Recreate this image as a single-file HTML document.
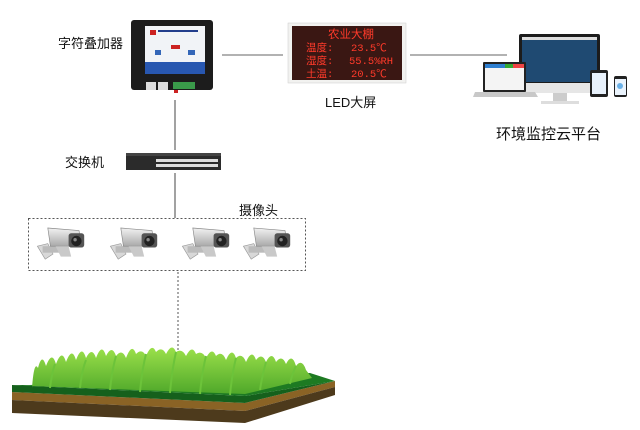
<!DOCTYPE html>
<html><head><meta charset="utf-8"><style>
html,body{margin:0;padding:0;background:#fff}
svg{display:block}
text{font-family:"Liberation Sans","Noto Sans CJK SC",sans-serif}
.led text{font-family:"Liberation Mono","Noto Sans CJK SC",monospace}
</style></head><body>
<svg width="640" height="430" viewBox="0 0 640 430" xmlns="http://www.w3.org/2000/svg">
<defs>
<linearGradient id="gr" x1="0" y1="0" x2="0" y2="1"><stop offset="0" stop-color="#9be04a"/><stop offset="1" stop-color="#4fa82a"/></linearGradient>
<linearGradient id="cam" x1="0" y1="0" x2="0" y2="1"><stop offset="0" stop-color="#f2f2f2"/><stop offset="1" stop-color="#a9a9a9"/></linearGradient>
<g id="camera">
<path d="M-2 14 L6 12 L10 20 L4 24 Z" fill="#d8d8d8" stroke="#999" stroke-width="0.5"/>
<rect x="2" y="14" width="14" height="5" fill="#bbb"/>
<path d="M6 0 L30 2 L32 14 L8 14 Z" fill="url(#cam)" stroke="#888" stroke-width="0.5"/>
<rect x="22" y="4" width="12" height="11" rx="2" fill="#555"/>
<circle cx="28" cy="10" r="4" fill="#222"/>
<circle cx="27" cy="9" r="1.3" fill="#888"/>
<path d="M12 14 L16 22 L24 22 L22 14 Z" fill="#c9c9c9"/>
</g>
</defs>

<!-- connectors -->
<line x1="222" y1="55" x2="283" y2="55" stroke="#666" stroke-width="1"/>
<line x1="410" y1="55" x2="507" y2="55" stroke="#666" stroke-width="1"/>
<line x1="175" y1="100" x2="175" y2="150" stroke="#444" stroke-width="1"/>
<line x1="175" y1="173" x2="175" y2="218" stroke="#444" stroke-width="1"/>
<line x1="178" y1="272" x2="178" y2="352" stroke="#555" stroke-width="1" stroke-dasharray="2,2"/>
<rect x="28.5" y="218.5" width="277" height="52" fill="none" stroke="#555" stroke-width="1" stroke-dasharray="2,2"/>

<!-- superimposer -->
<rect x="131" y="20" width="82" height="70" rx="3" fill="#1c1c1c"/>
<rect x="145" y="26" width="60" height="48" fill="#f1f3f7"/>
<rect x="145" y="62" width="60" height="12" fill="#2857b0"/>
<rect x="150" y="30" width="6" height="5" fill="#c22"/>
<rect x="158" y="30" width="40" height="2" fill="#223d8c"/>
<rect x="171" y="45" width="9" height="4" fill="#c22"/>
<rect x="155" y="50" width="6" height="5" fill="#3466b8"/>
<rect x="188" y="50" width="7" height="5" fill="#3466b8"/>
<rect x="146" y="82" width="10" height="8" fill="#ddd"/>
<rect x="158" y="82" width="10" height="8" fill="#ddd"/>
<rect x="173" y="82" width="22" height="7" fill="#3a9a4a"/>
<rect x="174" y="90" width="4" height="3" fill="#c22"/>
<text x="58" y="48" font-size="13" fill="#111">字符叠加器</text>

<!-- LED -->
<rect x="288" y="23" width="118" height="60" fill="#f2f2f0" stroke="#ccc" stroke-width="0.5"/>
<rect x="292" y="26" width="110" height="54" fill="#3a1713"/>
<g class="led" font-size="10.5" fill="#ff3a2a">
<text x="328" y="38" font-size="11.5">农业大棚</text>
<text x="306" y="51">温度:</text><text x="351" y="51">23.5℃</text>
<text x="306" y="64">湿度:</text><text x="349" y="64">55.5%RH</text>
<text x="306" y="77">土温:</text><text x="351" y="77">20.5℃</text>
</g>
<text x="325" y="107" font-size="13" fill="#111">LED大屏</text>

<!-- cloud platform devices -->
<rect x="519" y="34" width="81" height="54" rx="2" fill="#1c1c1c"/>
<rect x="522" y="37" width="75" height="45" fill="#1f4a72"/>
<rect x="522" y="37" width="75" height="3" fill="#ddd"/>
<rect x="520" y="83" width="79" height="10" fill="#e6e6e6"/>
<rect x="553" y="93" width="14" height="8" fill="#ccc"/>
<rect x="541" y="101" width="38" height="3" fill="#ddd"/>
<rect x="483" y="62" width="43" height="30" rx="1" fill="#222"/>
<rect x="485" y="64" width="39" height="26" fill="#f4f4f4"/>
<rect x="485" y="64" width="39" height="4" fill="#2e7fd0"/>
<rect x="505" y="64" width="8" height="4" fill="#3a3"/><rect x="513" y="64" width="11" height="4" fill="#e44"/>
<path d="M475 92 L535 92 L538 97 L473 97 Z" fill="#c8c8c8"/>
<rect x="590" y="70" width="18" height="27" rx="2" fill="#222"/>
<rect x="592" y="73" width="14" height="21" fill="#e8f1fb"/>
<rect x="614" y="76" width="13" height="21" rx="2" fill="#222"/>
<rect x="615" y="79" width="11" height="16" fill="#eaf3fc"/>
<circle cx="620" cy="86" r="3" fill="#6ab1e8"/>
<text x="496" y="139" font-size="15" fill="#111">环境监控云平台</text>

<!-- switch -->
<rect x="126" y="153" width="95" height="17" fill="#2b2b2b"/>
<rect x="126" y="153" width="95" height="3" fill="#444"/>
<g fill="#ddd"><rect x="156" y="159" width="62" height="3"/><rect x="156" y="164" width="62" height="3"/></g>
<text x="65" y="167" font-size="13" fill="#111">交换机</text>

<!-- cameras -->
<text x="239" y="215" font-size="13" fill="#111">摄像头</text>
<use href="#camera" transform="translate(40,228) scale(1.3)"/>
<use href="#camera" transform="translate(113,228) scale(1.3)"/>
<use href="#camera" transform="translate(185,228) scale(1.3)"/>
<use href="#camera" transform="translate(246,228) scale(1.3)"/>

<!-- ground -->
<path d="M12 392 L245 403 L335 381 L335 387 L245 411 L12 400 Z" fill="#8a6325"/>
<path d="M12 400 L245 411 L335 387 L335 395 L245 423 L12 413 Z" fill="#4d3a1c"/>
<path d="M12 385 L245 396 L335 381 L245 403 L12 392 Z" fill="#15601c"/>
<path d="M30 385 L310 373 L335 381 L245 396 L12 385 Z" fill="#1d7a22"/>
<!-- grass -->
<path d="M32 388 Q34 360 38 368 Q42 352 46 366 Q52 350 56 364 Q62 348 66 362 Q72 346 76 360 Q82 344 86 358 Q92 346 96 358 Q102 342 106 356 Q112 344 116 356 Q122 348 126 358 Q132 342 136 354 Q142 348 146 356 Q152 342 156 352 Q162 346 166 354 Q172 342 176 352 Q182 348 186 356 Q192 344 196 354 Q202 350 206 358 Q212 346 216 356 Q222 350 226 360 Q232 346 236 358 Q242 352 246 362 Q252 348 256 360 Q262 352 266 362 Q272 350 276 362 Q282 354 286 364 Q292 352 296 366 Q302 358 306 370 L312 378 L245 394 L32 386 Z" fill="url(#gr)"/>
<g stroke="#6cc33a" stroke-width="2" fill="none">
<path d="M50 388 Q52 372 55 364"/><path d="M80 388 Q82 370 86 360"/><path d="M110 390 Q112 370 116 356"/><path d="M140 392 Q142 370 146 354"/><path d="M170 393 Q172 370 176 352"/><path d="M200 394 Q202 372 206 356"/><path d="M230 395 Q232 374 236 358"/><path d="M260 390 Q262 376 266 362"/><path d="M290 384 Q292 374 296 366"/>
</g>
</svg>
</body></html>
